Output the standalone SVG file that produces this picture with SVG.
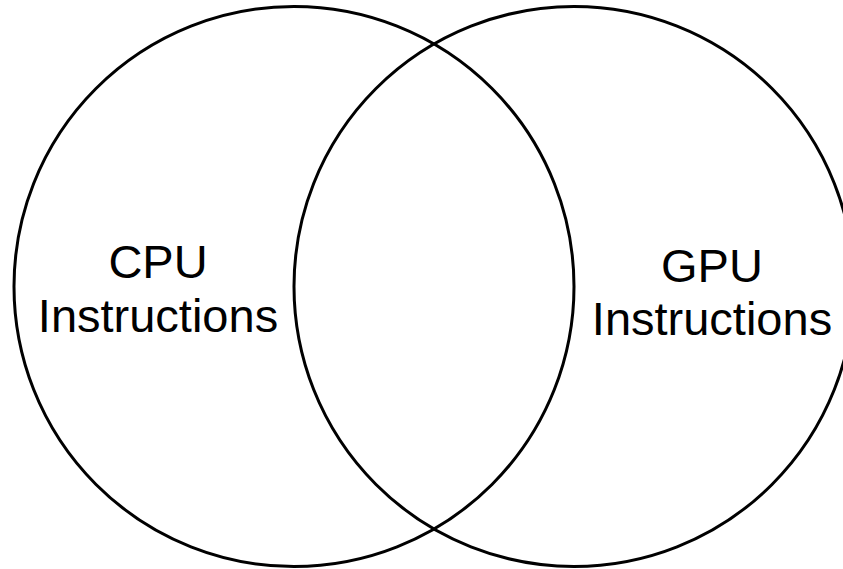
<svg xmlns="http://www.w3.org/2000/svg" width="843" height="569" viewBox="0 0 843 569">
  <style>
    .set { fill: none; stroke: #000000; stroke-width: 3; }
    .label { font-family: "Liberation Sans", Arial, sans-serif; font-size: 47px; fill: #000000; text-anchor: middle; }
  </style>
  <rect x="0" y="0" width="843" height="569" fill="#ffffff"/>
  <g id="cpu">
    <circle class="set" cx="294" cy="286.5" r="280"/>
    <text class="label" x="158" y="278">CPU</text>
    <text class="label" x="158" y="331.5">Instructions</text>
  </g>
  <g id="gpu">
    <circle class="set" cx="574" cy="286.5" r="280"/>
    <text class="label" x="712" y="281.5">GPU</text>
    <text class="label" x="712" y="335">Instructions</text>
  </g>
  <g id="connectors"></g>
</svg>
